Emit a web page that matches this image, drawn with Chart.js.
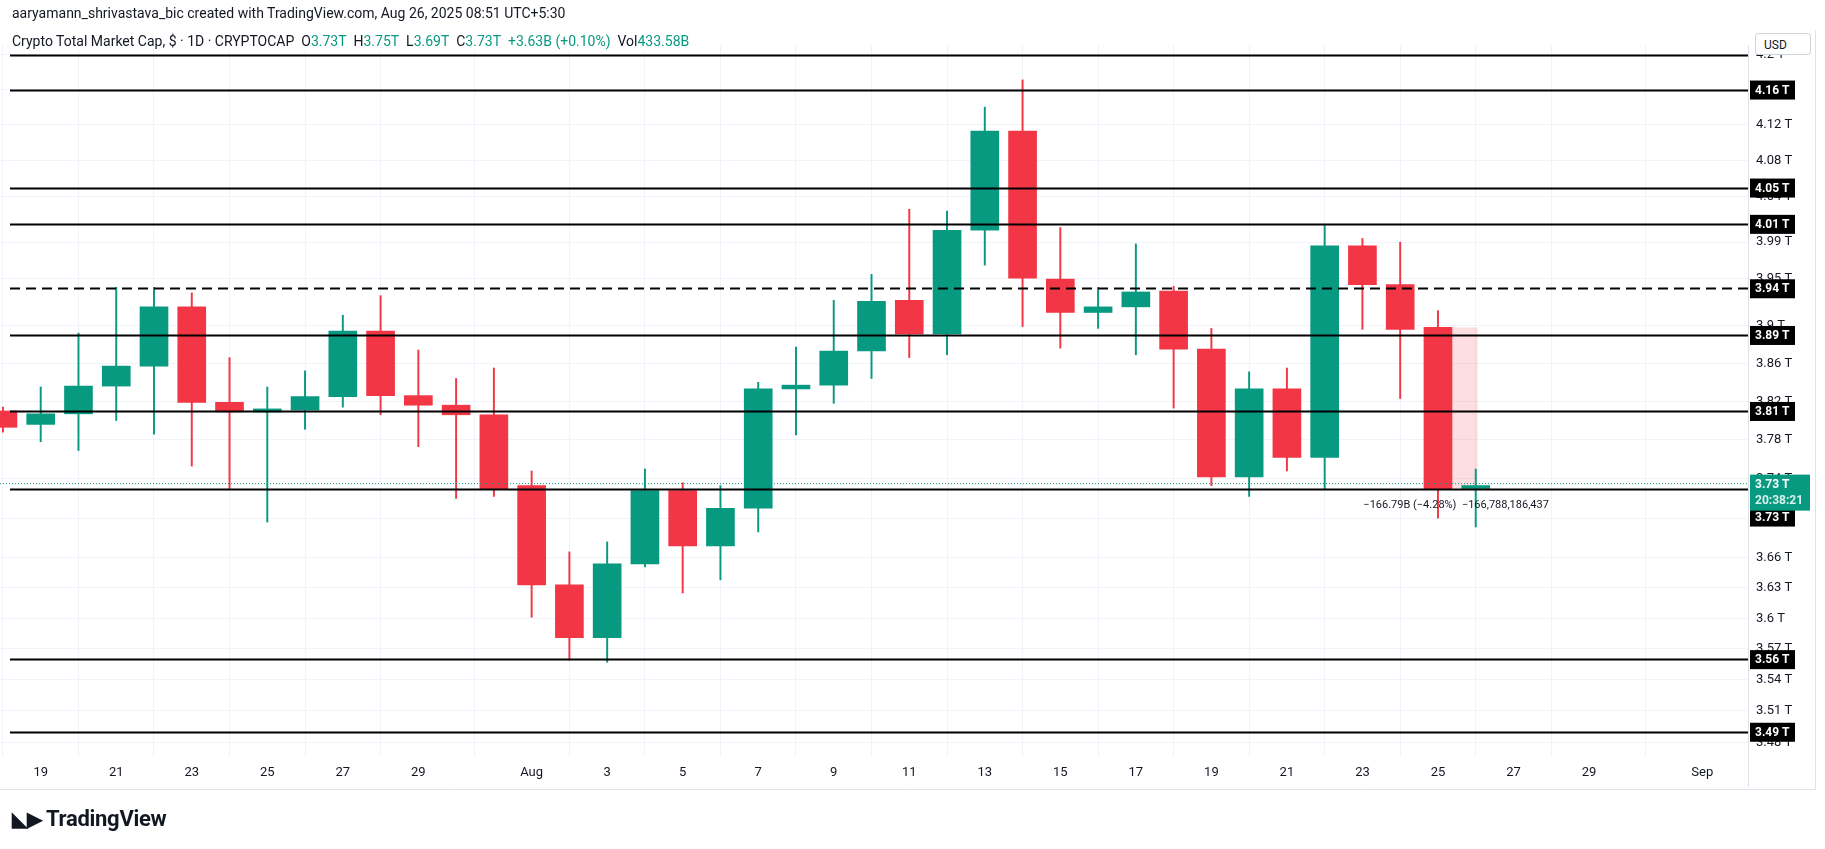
<!DOCTYPE html>
<html><head><meta charset="utf-8">
<script src="https://cdn.jsdelivr.net/npm/chart.js@4"></script>
<style>
html,body{margin:0;padding:0;background:#fff;width:1825px;height:849px;overflow:hidden;font-family:Roboto,"Liberation Sans",sans-serif}
#wrap{position:absolute;left:0;top:0;width:1825px;height:849px}
.t1{position:absolute;left:12px;top:5px;font-size:14px;color:#131722}
.t2{position:absolute;left:12px;top:33px;font-size:14px;color:#131722;background:#fff;padding-right:4px}
.g{color:#089981}
.logo{position:absolute;left:12px;top:806px;font-size:22px;font-weight:bold;color:#131722;letter-spacing:-0.3px}
.usd{position:absolute;left:1755px;top:33px;width:56px;height:22px;border:1px solid #d1d4dc;border-radius:3px;background:#fff;font-size:12px;line-height:22px;padding-left:8px;box-sizing:border-box;color:#131722}
</style></head><body>
<div id="wrap"><canvas id="c" width="1825" height="849"></canvas></div>
<div class="t1">aaryamann_shrivastava_bic created with TradingView.com, Aug 26, 2025 08:51 UTC+5:30</div>
<div class="t2">Crypto Total Market Cap, $ · 1D · CRYPTOCAP&nbsp;&nbsp;O<span class="g">3.73T</span>&nbsp; H<span class="g">3.75T</span>&nbsp; L<span class="g">3.69T</span>&nbsp; C<span class="g">3.73T</span>&nbsp; <span class="g">+3.63B (+0.10%)</span>&nbsp; Vol<span class="g">433.58B</span></div>
<div class="usd">USD</div>
<div class="logo"><span style="font-size:20px">◣▶</span> TradingView</div>
<script>
// day index: 0 = Jul 19
const days  = [-1,0,1,2,3,4,5,6,7,8,9,10,11,12,13,14,15,16,17,18,19,20,21,22,23,24,25,26,27,28,29,30,31,32,33,34,35,36,37,38];
const opens = [3.810,3.796,3.807,3.836,3.857,3.920,3.819,3.809,3.811,3.825,3.894,3.826,3.816,3.806,3.733,3.633,3.581,3.654,3.728,3.672,3.710,3.833,3.837,3.873,3.927,3.891,4.003,4.113,3.950,3.914,3.920,3.937,3.875,3.742,3.833,3.762,3.986,3.944,3.898,3.730];
const highs = [3.814,3.835,3.892,3.941,3.941,3.935,3.866,3.835,3.852,3.911,3.932,3.874,3.844,3.855,3.748,3.666,3.676,3.750,3.736,3.733,3.840,3.877,3.927,3.955,4.026,4.024,4.140,4.171,4.006,3.941,3.988,3.942,3.897,3.851,3.855,4.008,3.994,3.990,3.916,3.750];
const lows  = [3.788,3.778,3.769,3.800,3.786,3.753,3.730,3.696,3.791,3.814,3.806,3.773,3.720,3.722,3.601,3.559,3.557,3.651,3.625,3.638,3.686,3.785,3.818,3.844,3.866,3.869,3.965,3.899,3.876,3.897,3.869,3.813,3.733,3.722,3.748,3.730,3.896,3.823,3.700,3.691];
const closes= [3.793,3.807,3.836,3.857,3.920,3.819,3.809,3.811,3.825,3.894,3.826,3.816,3.806,3.730,3.633,3.581,3.654,3.728,3.672,3.710,3.833,3.837,3.873,3.926,3.891,4.003,4.113,3.951,3.914,3.920,3.936,3.875,3.742,3.833,3.762,3.986,3.944,3.896,3.730,3.733];
const xTickValues = [0,2,4,6,8,10,13,15,17,19,21,23,25,27,29,31,33,35,37,39,41,44];
const xTickLabels = ['19','21','23','25','27','29','Aug','3','5','7','9','11','13','15','17','19','21','23','25','27','29','Sep'];
const yTickValues = [4.2,4.16,4.12,4.08,4.04,3.99,3.95,3.9,3.86,3.82,3.78,3.74,3.7,3.66,3.63,3.6,3.57,3.54,3.51,3.48];
const levels = [4.20,4.16,4.05,4.01,3.94,3.89,3.81,3.73,3.56,3.49];
const levelLabels = ['','4.16 T','4.05 T','4.01 T','3.94 T','3.89 T','3.81 T','3.73 T','3.56 T','3.49 T'];
const dashedLevels = [3.94];
const lastPrice = 3.733;
const measure = {x0:36.7, x1:38.05, from:3.898, to:3.730, text:'−166.79B (−4.28%)  −166,788,186,437'};

const GREEN='#089981', RED='#F23645';
const col = closes.map((c,i)=> c>=opens[i]?GREEN:RED);

const levelPlugin = {
  id:'levels',
  beforeDatasetsDraw(ch){
    const {ctx, scales:{x,y}} = ch;
    ctx.save();
    const mx0=x.getPixelForValue(measure.x0), mx1=x.getPixelForValue(measure.x1);
    const my0=y.getPixelForValue(measure.from), my1=y.getPixelForValue(measure.to);
    ctx.fillStyle='rgba(242,54,69,0.16)';
    ctx.fillRect(mx0,my0,mx1-mx0,my1-my0);
    ctx.restore();
  },
  afterDatasetsDraw(ch){
    const {ctx, chartArea:a, scales:{x,y}} = ch;
    ctx.save();
    const mx0=x.getPixelForValue(measure.x0), mx1=x.getPixelForValue(measure.x1);
    const my0=y.getPixelForValue(measure.from), my1=y.getPixelForValue(measure.to);
    const ax=x.getPixelForValue(37.2);
    ctx.strokeStyle=RED; ctx.lineWidth=1;
    ctx.beginPath(); ctx.moveTo(ax,my0); ctx.lineTo(ax,my1); ctx.moveTo(ax-5,my1-6); ctx.lineTo(ax,my1); ctx.lineTo(ax+5,my1-6); ctx.stroke();
    const lp=y.getPixelForValue(lastPrice);
    ctx.strokeStyle=GREEN; ctx.setLineDash([1,2]);
    ctx.beginPath(); ctx.moveTo(a.left,lp-2); ctx.lineTo(a.right,lp-2); ctx.stroke();
    ctx.setLineDash([]);
    levels.forEach((v)=>{
      const py=Math.round(y.getPixelForValue(v))+0.5;
      ctx.strokeStyle='#000'; ctx.lineWidth=2;
      ctx.setLineDash(dashedLevels.includes(v)?[10,6]:[]);
      ctx.beginPath(); ctx.moveTo(a.left+10,py); ctx.lineTo(a.right,py); ctx.stroke();
      ctx.setLineDash([]);
    });
    ctx.fillStyle='#131722'; ctx.font='11px Roboto'; ctx.textAlign='center'; ctx.textBaseline='middle';
    ctx.fillText(measure.text,(mx0+mx1)/2+4,my1+17);
    ctx.font='bold 12px Roboto'; ctx.textAlign='left';
    levels.forEach((v,i)=>{
      if(!levelLabels[i]) return;
      let py=y.getPixelForValue(v);
      if(v===3.73) py+=28;
      ctx.fillStyle='#000'; ctx.fillRect(a.right+2,py-9,45,19);
      ctx.fillStyle='#fff'; ctx.fillText(levelLabels[i],a.right+7,py+1);
    });
    ctx.fillStyle=GREEN; ctx.fillRect(a.right+2,lp-11,60,36);
    ctx.fillStyle='#fff'; ctx.fillText('3.73 T',a.right+7,lp-1);
    ctx.fillStyle='#d8f1ec'; ctx.fillText('20:38:21',a.right+7,lp+15);
    ctx.strokeStyle='#e0e3eb'; ctx.lineWidth=1;
    ctx.beginPath(); ctx.moveTo(a.right+0.5,a.top); ctx.lineTo(a.right+0.5,a.bottom+30);
    ctx.moveTo(1815.5,30); ctx.lineTo(1815.5,790);
    ctx.moveTo(0,a.bottom+32.5); ctx.lineTo(1815,a.bottom+32.5); ctx.stroke();
    ctx.restore();
  }
};

new Chart(document.getElementById('c'),{
  type:'bar',
  data:{datasets:[
    {data:days.map((d,i)=>({x:d,y:[lows[i],highs[i]]})),backgroundColor:col,barThickness:1.3,grouped:false,order:2},
    {data:days.map((d,i)=>({x:d,y:[opens[i],closes[i]]})),backgroundColor:col,barThickness:28,grouped:false,order:1,minBarLength:3}
  ]},
  options:{
    responsive:false,animation:false,
    layout:{padding:{left:0,top:45,right:0,bottom:0}},
    plugins:{legend:{display:false},tooltip:{enabled:false}},
    scales:{
      x:{type:'linear',min:-1.078,max:45.21,offset:false,
        afterBuildTicks(s){s.ticks=xTickValues.map(v=>({value:v}));},
        afterFit(s){s.height=92;},
        grid:{color:'#f0f3fa',drawTicks:false},border:{display:false},
        ticks:{autoSkip:false,maxRotation:0,padding:8,color:'#131722',font:{size:13,family:'Roboto'},
          callback:(v,i)=>xTickLabels[i]}},
      y:{type:'logarithmic',position:'right',min:3.466,max:4.211,
        afterBuildTicks(s){s.ticks=yTickValues.map(v=>({value:v}));},
        afterFit(s){s.width=77;},
        grid:{color:'#f0f3fa',drawTicks:false},border:{display:false},
        ticks:{autoSkip:false,padding:8,color:'#131722',font:{size:13,family:'Roboto'},
          callback:v=>String(+v.toFixed(2))+' T'}}
    }
  },
  plugins:[levelPlugin]
});
</script></body></html>
